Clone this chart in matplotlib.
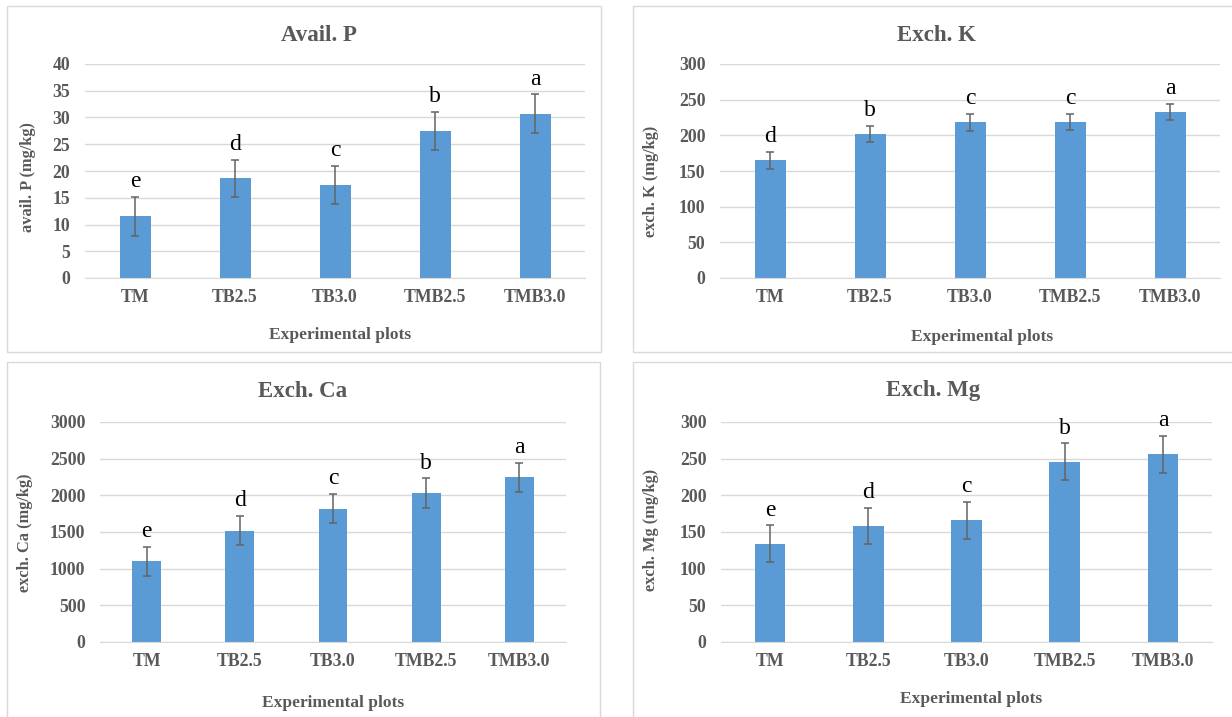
import numpy as np
import matplotlib
matplotlib.use('Agg')
import matplotlib.pyplot as plt
from matplotlib.patches import Rectangle

# data
plots = ['TM', 'TB2.5', 'TB3.0', 'TMB2.5', 'TMB3.0']

avail_p = [11.5, 18.6, 17.4, 27.5, 30.7]
avail_p_err = [3.6, 3.5, 3.5, 3.5, 3.6]
avail_p_grp = ['e', 'd', 'c', 'b', 'a']

exch_k = [165, 202, 218, 219, 233]
exch_k_err = [11.5, 11.5, 12, 11, 11]
exch_k_grp = ['d', 'b', 'c', 'c', 'a']

exch_ca = [1100, 1518, 1818, 2030, 2245]
exch_ca_err = [200, 200, 200, 200, 200]
exch_ca_grp = ['e', 'd', 'c', 'b', 'a']

exch_mg = [134, 158, 166, 246, 256]
exch_mg_err = [25, 25, 25, 25, 25]
exch_mg_grp = ['e', 'd', 'c', 'b', 'a']

W, H = 1232, 717
SERIF = 'Liberation Serif'
GREY = '#595959'
GRID = '#D9D9D9'
BLUE = '#5B9BD5'

fig = plt.figure(figsize=(W / 100, H / 100), dpi=100)


def fx(x):
	return x / W


def fy(y):
	return 1 - y / H


def panel(box, area, ymax, step, vals, errs, grps, title, title_pos,
		  ylabel, ylabel_pos, xlabel_pos):
	# chart frame
	x0, y0, x1, y1 = box
	fig.patches.append(Rectangle((fx(x0), fy(y1)), (x1 - x0) / W, (y1 - y0) / H,
								 transform=fig.transFigure, fill=False,
								 edgecolor=GRID, lw=1))
	a0, b0, a1, b1 = area
	ax = fig.add_axes([fx(a0), fy(b1), (a1 - a0) / W, (b1 - b0) / H])
	x = np.arange(len(plots))
	ax.bar(x, vals, width=0.31, color=BLUE, zorder=2)
	ax.errorbar(x, vals, yerr=errs, fmt='none', ecolor='#636363',
				elinewidth=1.1, capsize=3, capthick=1.1, zorder=3)
	for i in range(len(plots)):
		ax.annotate(grps[i], (x[i], vals[i] + errs[i]), xytext=(0, 7),
					textcoords='offset points', ha='center', va='baseline',
					fontsize=17, family=SERIF, color='black')
	ax.set_xlim(-0.5, len(plots) - 0.5)
	ax.set_ylim(0, ymax)
	ax.set_yticks(np.arange(0, ymax + step, step))
	ax.set_xticks(x)
	ax.set_xticklabels(plots)
	ax.yaxis.grid(True, color=GRID, lw=1)
	ax.set_axisbelow(True)
	for s in ['top', 'right', 'left']:
		ax.spines[s].set_visible(False)
	ax.spines['bottom'].set_color(GRID)
	ax.tick_params(axis='both', length=0, colors=GREY)
	ax.tick_params(axis='y', pad=10.5)
	ax.tick_params(axis='x', pad=8)
	for lab in ax.get_xticklabels() + ax.get_yticklabels():
		lab.set_family(SERIF)
		lab.set_fontweight('bold')
		lab.set_fontsize(12.8)
	fig.text(fx(title_pos[0]), fy(title_pos[1]), title, ha='center', va='baseline',
			 family=SERIF, fontweight='bold', fontsize=16.5, color=GREY)
	fig.text(fx(ylabel_pos[0]), fy(ylabel_pos[1]), ylabel, ha='center', va='center',
			 rotation=90, family=SERIF, fontweight='bold', fontsize=11.8, color=GREY)
	fig.text(fx(xlabel_pos[0]), fy(xlabel_pos[1]), 'Experimental plots', ha='center',
			 va='baseline', family=SERIF, fontweight='bold', fontsize=12.5, color=GREY)
	return ax


panel((7, 6, 601, 352), (85, 64, 585, 278), 40, 5,
	  avail_p, avail_p_err, avail_p_grp, 'Avail. P', (319, 41),
	  'avail. P (mg/kg)', (28, 177), (340, 339))

panel((633, 6, 1240, 352), (720, 64, 1220, 278), 300, 50,
	  exch_k, exch_k_err, exch_k_grp, 'Exch. K', (936, 41),
	  'exch. K (mg/kg)', (651, 181), (982, 341))

panel((7, 362, 600, 730), (100, 422, 566, 642), 3000, 500,
	  exch_ca, exch_ca_err, exch_ca_grp, 'Exch. Ca', (303, 397),
	  'exch. Ca (mg/kg)', (25, 533), (333, 707))

panel((633, 362, 1240, 730), (721, 422, 1212, 642), 300, 50,
	  exch_mg, exch_mg_err, exch_mg_grp, 'Exch. Mg', (933, 396),
	  'exch. Mg (mg/kg)', (651, 530), (971, 703))

fig.savefig('out.png', dpi=100)
